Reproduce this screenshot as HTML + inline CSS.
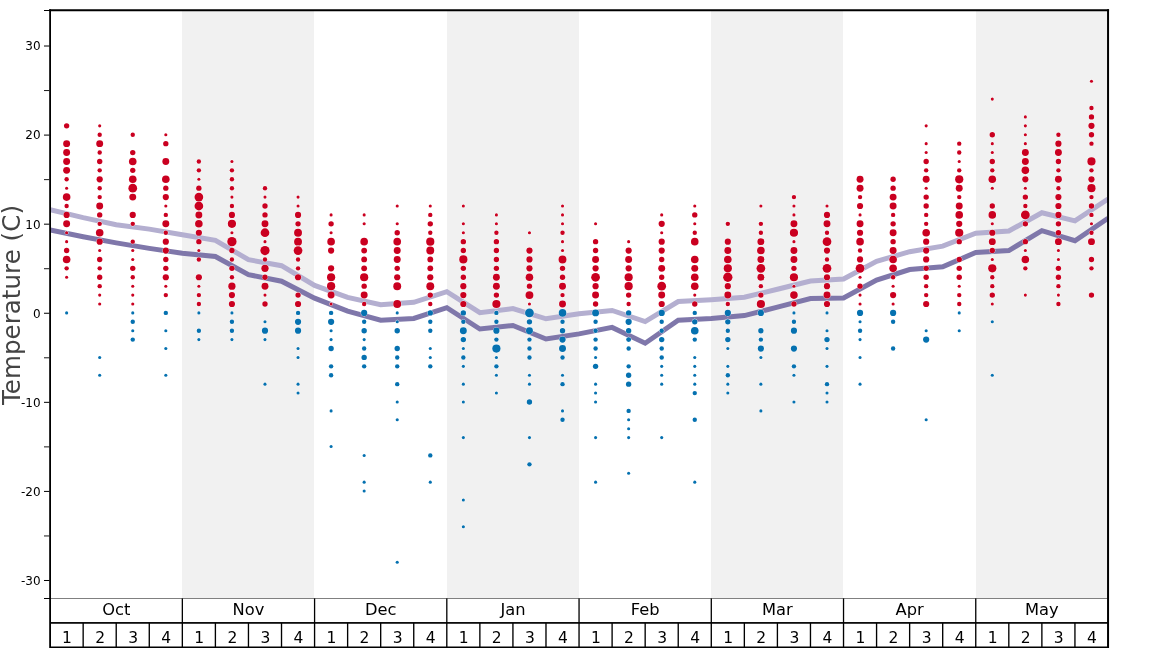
<!DOCTYPE html>
<html lang="en"><head><meta charset="utf-8"><title>Temperature</title>
<style>html,body{margin:0;padding:0;background:#fff}body{width:1168px;height:648px;overflow:hidden}svg{display:block}text{font-family:"DejaVu Sans","Liberation Sans",sans-serif;fill:#000}</style></head><body>
<svg width="1168" height="648" viewBox="0 0 1168 648">
<rect width="1168" height="648" fill="#fff"/>
<rect x="182.00" y="10.20" width="132.00" height="588.20" fill="#f1f1f1"/>
<rect x="447.00" y="10.20" width="132.00" height="588.20" fill="#f1f1f1"/>
<rect x="711.00" y="10.20" width="132.00" height="588.20" fill="#f1f1f1"/>
<rect x="976.00" y="10.20" width="132.00" height="588.20" fill="#f1f1f1"/>
<clipPath id="c"><rect x="50.10" y="10.20" width="1057.90" height="588.20"/></clipPath>
<path d="M50.10 209.70 L83.16 217.60 L116.22 224.70 L149.28 229.10 L182.34 234.80 L215.40 240.30 L248.46 259.70 L281.52 265.70 L314.58 285.40 L347.63 297.40 L380.69 304.70 L413.75 302.30 L446.81 291.70 L479.87 312.70 L512.93 308.60 L545.99 318.80 L579.05 313.70 L612.11 310.50 L645.17 321.60 L678.23 301.50 L711.29 299.70 L744.35 297.30 L777.41 289.20 L810.47 281.10 L843.53 279.00 L876.58 261.40 L909.64 251.70 L942.70 246.20 L975.76 233.20 L1008.82 231.05 L1041.88 212.75 L1074.94 220.90 L1108.00 199.00" fill="none" stroke="#b4afd0" stroke-width="5.00" stroke-linejoin="miter" stroke-miterlimit="10" clip-path="url(#c)"/>
<path d="M50.10 230.00 L83.16 236.80 L116.22 242.90 L149.28 248.40 L182.34 253.30 L215.40 256.50 L248.46 274.60 L281.52 281.20 L314.58 298.20 L347.63 311.20 L380.69 320.20 L413.75 318.40 L446.81 307.70 L479.87 329.00 L512.93 325.50 L545.99 339.00 L579.05 333.90 L612.11 327.40 L645.17 343.20 L678.23 320.20 L711.29 318.40 L744.35 315.60 L777.41 307.10 L810.47 298.60 L843.53 297.90 L876.58 280.00 L909.64 269.50 L942.70 266.70 L975.76 252.50 L1008.82 250.60 L1041.88 230.60 L1074.94 240.70 L1108.00 218.20" fill="none" stroke="#7f77aa" stroke-width="5.00" stroke-linejoin="miter" stroke-miterlimit="10" clip-path="url(#c)"/>
<g fill="#ca0020" stroke="#fff" stroke-width="0.8" paint-order="stroke"><circle cx="66.63" cy="125.83" r="2.68"/><circle cx="66.63" cy="143.65" r="3.47"/><circle cx="66.63" cy="152.56" r="3.47"/><circle cx="66.63" cy="161.46" r="3.47"/><circle cx="66.63" cy="170.37" r="3.47"/><circle cx="66.63" cy="179.28" r="2.19"/><circle cx="66.63" cy="188.19" r="1.55"/><circle cx="66.63" cy="197.10" r="3.80"/><circle cx="66.63" cy="206.00" r="2.19"/><circle cx="66.63" cy="214.91" r="3.10"/><circle cx="66.63" cy="223.82" r="3.47"/><circle cx="66.63" cy="232.73" r="1.55"/><circle cx="66.63" cy="241.64" r="1.55"/><circle cx="66.63" cy="250.54" r="2.68"/><circle cx="66.63" cy="259.45" r="3.80"/><circle cx="66.63" cy="268.36" r="2.19"/><circle cx="66.63" cy="277.27" r="1.55"/></g>
<g fill="#0571b0" stroke="#fff" stroke-width="0.8" paint-order="stroke"><circle cx="66.63" cy="312.90" r="1.55"/></g>
<g fill="#ca0020" stroke="#fff" stroke-width="0.8" paint-order="stroke"><circle cx="99.69" cy="125.83" r="1.55"/><circle cx="99.69" cy="134.74" r="2.19"/><circle cx="99.69" cy="143.65" r="3.47"/><circle cx="99.69" cy="152.56" r="2.19"/><circle cx="99.69" cy="161.46" r="2.68"/><circle cx="99.69" cy="170.37" r="2.19"/><circle cx="99.69" cy="179.28" r="3.10"/><circle cx="99.69" cy="188.19" r="2.19"/><circle cx="99.69" cy="197.10" r="2.19"/><circle cx="99.69" cy="206.00" r="3.47"/><circle cx="99.69" cy="214.91" r="2.68"/><circle cx="99.69" cy="223.82" r="2.19"/><circle cx="99.69" cy="232.73" r="3.80"/><circle cx="99.69" cy="241.64" r="3.10"/><circle cx="99.69" cy="250.54" r="1.55"/><circle cx="99.69" cy="259.45" r="2.68"/><circle cx="99.69" cy="268.36" r="2.19"/><circle cx="99.69" cy="277.27" r="2.68"/><circle cx="99.69" cy="286.18" r="2.19"/><circle cx="99.69" cy="295.08" r="1.55"/><circle cx="99.69" cy="303.99" r="1.55"/></g>
<g fill="#0571b0" stroke="#fff" stroke-width="0.8" paint-order="stroke"><circle cx="99.69" cy="357.44" r="1.55"/><circle cx="99.69" cy="375.26" r="1.55"/></g>
<g fill="#ca0020" stroke="#fff" stroke-width="0.8" paint-order="stroke"><circle cx="132.75" cy="134.74" r="2.19"/><circle cx="132.75" cy="152.56" r="2.68"/><circle cx="132.75" cy="161.46" r="3.80"/><circle cx="132.75" cy="170.37" r="2.68"/><circle cx="132.75" cy="179.28" r="3.80"/><circle cx="132.75" cy="188.19" r="4.38"/><circle cx="132.75" cy="197.10" r="3.47"/><circle cx="132.75" cy="214.91" r="3.10"/><circle cx="132.75" cy="223.82" r="2.19"/><circle cx="132.75" cy="241.64" r="2.19"/><circle cx="132.75" cy="250.54" r="1.55"/><circle cx="132.75" cy="259.45" r="1.55"/><circle cx="132.75" cy="268.36" r="2.68"/><circle cx="132.75" cy="277.27" r="2.19"/><circle cx="132.75" cy="286.18" r="1.55"/><circle cx="132.75" cy="295.08" r="1.55"/><circle cx="132.75" cy="303.99" r="1.55"/></g>
<g fill="#0571b0" stroke="#fff" stroke-width="0.8" paint-order="stroke"><circle cx="132.75" cy="312.90" r="1.55"/><circle cx="132.75" cy="321.81" r="2.19"/><circle cx="132.75" cy="330.72" r="1.55"/><circle cx="132.75" cy="339.62" r="2.19"/></g>
<g fill="#ca0020" stroke="#fff" stroke-width="0.8" paint-order="stroke"><circle cx="165.81" cy="134.74" r="1.55"/><circle cx="165.81" cy="143.65" r="2.68"/><circle cx="165.81" cy="161.46" r="3.47"/><circle cx="165.81" cy="179.28" r="3.80"/><circle cx="165.81" cy="188.19" r="2.68"/><circle cx="165.81" cy="197.10" r="3.10"/><circle cx="165.81" cy="206.00" r="1.55"/><circle cx="165.81" cy="214.91" r="2.19"/><circle cx="165.81" cy="223.82" r="3.47"/><circle cx="165.81" cy="232.73" r="2.19"/><circle cx="165.81" cy="241.64" r="3.10"/><circle cx="165.81" cy="250.54" r="3.10"/><circle cx="165.81" cy="259.45" r="2.68"/><circle cx="165.81" cy="268.36" r="2.68"/><circle cx="165.81" cy="277.27" r="3.10"/><circle cx="165.81" cy="286.18" r="1.55"/><circle cx="165.81" cy="295.08" r="2.19"/></g>
<g fill="#0571b0" stroke="#fff" stroke-width="0.8" paint-order="stroke"><circle cx="165.81" cy="312.90" r="2.19"/><circle cx="165.81" cy="330.72" r="1.55"/><circle cx="165.81" cy="348.53" r="1.55"/><circle cx="165.81" cy="375.26" r="1.55"/></g>
<g fill="#ca0020" stroke="#fff" stroke-width="0.8" paint-order="stroke"><circle cx="198.87" cy="161.46" r="2.19"/><circle cx="198.87" cy="170.37" r="2.19"/><circle cx="198.87" cy="179.28" r="1.55"/><circle cx="198.87" cy="188.19" r="2.68"/><circle cx="198.87" cy="197.10" r="4.38"/><circle cx="198.87" cy="206.00" r="4.38"/><circle cx="198.87" cy="214.91" r="3.47"/><circle cx="198.87" cy="223.82" r="3.80"/><circle cx="198.87" cy="232.73" r="3.10"/><circle cx="198.87" cy="241.64" r="2.68"/><circle cx="198.87" cy="250.54" r="1.55"/><circle cx="198.87" cy="259.45" r="2.19"/><circle cx="198.87" cy="277.27" r="3.10"/><circle cx="198.87" cy="286.18" r="1.55"/><circle cx="198.87" cy="295.08" r="2.19"/><circle cx="198.87" cy="303.99" r="2.19"/></g>
<g fill="#0571b0" stroke="#fff" stroke-width="0.8" paint-order="stroke"><circle cx="198.87" cy="312.90" r="1.55"/><circle cx="198.87" cy="330.72" r="2.19"/><circle cx="198.87" cy="339.62" r="1.55"/></g>
<g fill="#ca0020" stroke="#fff" stroke-width="0.8" paint-order="stroke"><circle cx="231.93" cy="161.46" r="1.55"/><circle cx="231.93" cy="170.37" r="2.19"/><circle cx="231.93" cy="179.28" r="2.19"/><circle cx="231.93" cy="188.19" r="2.19"/><circle cx="231.93" cy="197.10" r="1.55"/><circle cx="231.93" cy="206.00" r="2.19"/><circle cx="231.93" cy="214.91" r="3.10"/><circle cx="231.93" cy="223.82" r="4.10"/><circle cx="231.93" cy="232.73" r="1.55"/><circle cx="231.93" cy="241.64" r="4.65"/><circle cx="231.93" cy="250.54" r="2.68"/><circle cx="231.93" cy="259.45" r="2.19"/><circle cx="231.93" cy="268.36" r="2.68"/><circle cx="231.93" cy="277.27" r="2.19"/><circle cx="231.93" cy="286.18" r="3.64"/><circle cx="231.93" cy="295.08" r="3.10"/><circle cx="231.93" cy="303.99" r="3.10"/></g>
<g fill="#0571b0" stroke="#fff" stroke-width="0.8" paint-order="stroke"><circle cx="231.93" cy="312.90" r="1.55"/><circle cx="231.93" cy="321.81" r="2.19"/><circle cx="231.93" cy="330.72" r="2.19"/><circle cx="231.93" cy="339.62" r="1.55"/></g>
<g fill="#ca0020" stroke="#fff" stroke-width="0.8" paint-order="stroke"><circle cx="264.99" cy="188.19" r="2.19"/><circle cx="264.99" cy="197.10" r="1.55"/><circle cx="264.99" cy="206.00" r="2.68"/><circle cx="264.99" cy="214.91" r="2.68"/><circle cx="264.99" cy="223.82" r="3.47"/><circle cx="264.99" cy="232.73" r="4.38"/><circle cx="264.99" cy="241.64" r="1.55"/><circle cx="264.99" cy="250.54" r="4.65"/><circle cx="264.99" cy="259.45" r="2.19"/><circle cx="264.99" cy="268.36" r="3.64"/><circle cx="264.99" cy="277.27" r="2.68"/><circle cx="264.99" cy="286.18" r="3.47"/><circle cx="264.99" cy="295.08" r="1.55"/><circle cx="264.99" cy="303.99" r="2.68"/></g>
<g fill="#0571b0" stroke="#fff" stroke-width="0.8" paint-order="stroke"><circle cx="264.99" cy="321.81" r="1.55"/><circle cx="264.99" cy="330.72" r="3.10"/><circle cx="264.99" cy="339.62" r="1.55"/><circle cx="264.99" cy="384.16" r="1.55"/></g>
<g fill="#ca0020" stroke="#fff" stroke-width="0.8" paint-order="stroke"><circle cx="298.05" cy="197.10" r="1.55"/><circle cx="298.05" cy="206.00" r="1.55"/><circle cx="298.05" cy="214.91" r="3.10"/><circle cx="298.05" cy="223.82" r="2.68"/><circle cx="298.05" cy="232.73" r="3.95"/><circle cx="298.05" cy="241.64" r="3.95"/><circle cx="298.05" cy="250.54" r="4.38"/><circle cx="298.05" cy="259.45" r="2.19"/><circle cx="298.05" cy="268.36" r="2.19"/><circle cx="298.05" cy="277.27" r="3.10"/><circle cx="298.05" cy="295.08" r="2.68"/><circle cx="298.05" cy="303.99" r="3.10"/></g>
<g fill="#0571b0" stroke="#fff" stroke-width="0.8" paint-order="stroke"><circle cx="298.05" cy="312.90" r="2.19"/><circle cx="298.05" cy="321.81" r="3.10"/><circle cx="298.05" cy="330.72" r="3.10"/><circle cx="298.05" cy="348.53" r="1.55"/><circle cx="298.05" cy="357.44" r="1.55"/><circle cx="298.05" cy="384.16" r="1.55"/><circle cx="298.05" cy="393.07" r="1.55"/></g>
<g fill="#ca0020" stroke="#fff" stroke-width="0.8" paint-order="stroke"><circle cx="331.10" cy="214.91" r="1.55"/><circle cx="331.10" cy="223.82" r="2.68"/><circle cx="331.10" cy="232.73" r="1.55"/><circle cx="331.10" cy="241.64" r="3.80"/><circle cx="331.10" cy="250.54" r="3.10"/><circle cx="331.10" cy="268.36" r="3.10"/><circle cx="331.10" cy="277.27" r="4.10"/><circle cx="331.10" cy="286.18" r="4.10"/><circle cx="331.10" cy="295.08" r="3.47"/><circle cx="331.10" cy="303.99" r="1.55"/></g>
<g fill="#0571b0" stroke="#fff" stroke-width="0.8" paint-order="stroke"><circle cx="331.10" cy="312.90" r="2.19"/><circle cx="331.10" cy="321.81" r="3.10"/><circle cx="331.10" cy="330.72" r="1.55"/><circle cx="331.10" cy="339.62" r="1.55"/><circle cx="331.10" cy="348.53" r="2.68"/><circle cx="331.10" cy="366.35" r="2.19"/><circle cx="331.10" cy="375.26" r="2.19"/><circle cx="331.10" cy="410.89" r="1.55"/><circle cx="331.10" cy="446.52" r="1.55"/></g>
<g fill="#ca0020" stroke="#fff" stroke-width="0.8" paint-order="stroke"><circle cx="364.16" cy="214.91" r="1.55"/><circle cx="364.16" cy="223.82" r="1.55"/><circle cx="364.16" cy="241.64" r="3.80"/><circle cx="364.16" cy="250.54" r="2.90"/><circle cx="364.16" cy="259.45" r="2.90"/><circle cx="364.16" cy="268.36" r="2.90"/><circle cx="364.16" cy="277.27" r="4.10"/><circle cx="364.16" cy="286.18" r="2.68"/><circle cx="364.16" cy="295.08" r="3.47"/><circle cx="364.16" cy="303.99" r="2.19"/></g>
<g fill="#0571b0" stroke="#fff" stroke-width="0.8" paint-order="stroke"><circle cx="364.16" cy="312.90" r="3.10"/><circle cx="364.16" cy="321.81" r="2.19"/><circle cx="364.16" cy="330.72" r="2.68"/><circle cx="364.16" cy="339.62" r="1.55"/><circle cx="364.16" cy="348.53" r="2.19"/><circle cx="364.16" cy="357.44" r="2.68"/><circle cx="364.16" cy="366.35" r="2.19"/><circle cx="364.16" cy="455.43" r="1.55"/><circle cx="364.16" cy="482.15" r="1.55"/><circle cx="364.16" cy="491.06" r="1.55"/></g>
<g fill="#ca0020" stroke="#fff" stroke-width="0.8" paint-order="stroke"><circle cx="397.22" cy="206.00" r="1.55"/><circle cx="397.22" cy="223.82" r="1.55"/><circle cx="397.22" cy="232.73" r="2.68"/><circle cx="397.22" cy="241.64" r="3.80"/><circle cx="397.22" cy="250.54" r="3.47"/><circle cx="397.22" cy="259.45" r="3.47"/><circle cx="397.22" cy="268.36" r="2.68"/><circle cx="397.22" cy="277.27" r="3.10"/><circle cx="397.22" cy="286.18" r="3.95"/><circle cx="397.22" cy="303.99" r="3.95"/></g>
<g fill="#0571b0" stroke="#fff" stroke-width="0.8" paint-order="stroke"><circle cx="397.22" cy="312.90" r="1.55"/><circle cx="397.22" cy="321.81" r="1.55"/><circle cx="397.22" cy="330.72" r="2.68"/><circle cx="397.22" cy="348.53" r="2.68"/><circle cx="397.22" cy="357.44" r="2.19"/><circle cx="397.22" cy="366.35" r="2.19"/><circle cx="397.22" cy="384.16" r="2.19"/><circle cx="397.22" cy="401.98" r="1.55"/><circle cx="397.22" cy="419.80" r="1.55"/><circle cx="397.22" cy="562.32" r="1.55"/></g>
<g fill="#ca0020" stroke="#fff" stroke-width="0.8" paint-order="stroke"><circle cx="430.28" cy="206.00" r="1.55"/><circle cx="430.28" cy="214.91" r="2.19"/><circle cx="430.28" cy="223.82" r="2.68"/><circle cx="430.28" cy="232.73" r="2.19"/><circle cx="430.28" cy="241.64" r="4.10"/><circle cx="430.28" cy="250.54" r="3.95"/><circle cx="430.28" cy="259.45" r="2.90"/><circle cx="430.28" cy="268.36" r="2.90"/><circle cx="430.28" cy="277.27" r="3.10"/><circle cx="430.28" cy="286.18" r="3.95"/><circle cx="430.28" cy="295.08" r="2.68"/><circle cx="430.28" cy="303.99" r="2.19"/></g>
<g fill="#0571b0" stroke="#fff" stroke-width="0.8" paint-order="stroke"><circle cx="430.28" cy="312.90" r="2.68"/><circle cx="430.28" cy="321.81" r="2.19"/><circle cx="430.28" cy="330.72" r="2.19"/><circle cx="430.28" cy="348.53" r="1.55"/><circle cx="430.28" cy="357.44" r="1.55"/><circle cx="430.28" cy="366.35" r="2.19"/><circle cx="430.28" cy="455.43" r="2.19"/><circle cx="430.28" cy="482.15" r="1.55"/></g>
<g fill="#ca0020" stroke="#fff" stroke-width="0.8" paint-order="stroke"><circle cx="463.34" cy="206.00" r="1.55"/><circle cx="463.34" cy="223.82" r="1.55"/><circle cx="463.34" cy="232.73" r="1.55"/><circle cx="463.34" cy="241.64" r="2.68"/><circle cx="463.34" cy="250.54" r="2.68"/><circle cx="463.34" cy="259.45" r="4.10"/><circle cx="463.34" cy="268.36" r="2.68"/><circle cx="463.34" cy="277.27" r="2.68"/><circle cx="463.34" cy="286.18" r="3.10"/><circle cx="463.34" cy="295.08" r="3.10"/><circle cx="463.34" cy="303.99" r="3.10"/></g>
<g fill="#0571b0" stroke="#fff" stroke-width="0.8" paint-order="stroke"><circle cx="463.34" cy="312.90" r="2.68"/><circle cx="463.34" cy="321.81" r="2.19"/><circle cx="463.34" cy="330.72" r="3.47"/><circle cx="463.34" cy="339.62" r="2.68"/><circle cx="463.34" cy="348.53" r="1.55"/><circle cx="463.34" cy="357.44" r="2.19"/><circle cx="463.34" cy="366.35" r="1.55"/><circle cx="463.34" cy="384.16" r="1.55"/><circle cx="463.34" cy="401.98" r="1.55"/><circle cx="463.34" cy="437.61" r="1.55"/><circle cx="463.34" cy="499.97" r="1.55"/><circle cx="463.34" cy="526.69" r="1.55"/></g>
<g fill="#ca0020" stroke="#fff" stroke-width="0.8" paint-order="stroke"><circle cx="496.40" cy="214.91" r="1.55"/><circle cx="496.40" cy="223.82" r="1.55"/><circle cx="496.40" cy="232.73" r="2.19"/><circle cx="496.40" cy="241.64" r="2.68"/><circle cx="496.40" cy="250.54" r="2.68"/><circle cx="496.40" cy="259.45" r="2.68"/><circle cx="496.40" cy="268.36" r="2.68"/><circle cx="496.40" cy="277.27" r="3.47"/><circle cx="496.40" cy="286.18" r="3.47"/><circle cx="496.40" cy="295.08" r="2.68"/><circle cx="496.40" cy="303.99" r="4.10"/></g>
<g fill="#0571b0" stroke="#fff" stroke-width="0.8" paint-order="stroke"><circle cx="496.40" cy="312.90" r="2.19"/><circle cx="496.40" cy="321.81" r="2.19"/><circle cx="496.40" cy="330.72" r="3.10"/><circle cx="496.40" cy="339.62" r="2.19"/><circle cx="496.40" cy="348.53" r="4.10"/><circle cx="496.40" cy="357.44" r="1.55"/><circle cx="496.40" cy="366.35" r="2.19"/><circle cx="496.40" cy="375.26" r="1.55"/><circle cx="496.40" cy="393.07" r="1.55"/></g>
<g fill="#ca0020" stroke="#fff" stroke-width="0.8" paint-order="stroke"><circle cx="529.46" cy="232.73" r="1.55"/><circle cx="529.46" cy="250.54" r="3.10"/><circle cx="529.46" cy="259.45" r="3.10"/><circle cx="529.46" cy="268.36" r="3.10"/><circle cx="529.46" cy="277.27" r="3.80"/><circle cx="529.46" cy="286.18" r="2.68"/><circle cx="529.46" cy="295.08" r="3.95"/><circle cx="529.46" cy="303.99" r="1.55"/></g>
<g fill="#0571b0" stroke="#fff" stroke-width="0.8" paint-order="stroke"><circle cx="529.46" cy="312.90" r="4.38"/><circle cx="529.46" cy="321.81" r="2.68"/><circle cx="529.46" cy="330.72" r="3.47"/><circle cx="529.46" cy="339.62" r="2.19"/><circle cx="529.46" cy="348.53" r="2.19"/><circle cx="529.46" cy="357.44" r="2.19"/><circle cx="529.46" cy="375.26" r="1.55"/><circle cx="529.46" cy="384.16" r="1.55"/><circle cx="529.46" cy="401.98" r="2.68"/><circle cx="529.46" cy="437.61" r="1.55"/><circle cx="529.46" cy="464.34" r="2.19"/></g>
<g fill="#ca0020" stroke="#fff" stroke-width="0.8" paint-order="stroke"><circle cx="562.52" cy="206.00" r="1.55"/><circle cx="562.52" cy="214.91" r="1.55"/><circle cx="562.52" cy="223.82" r="1.55"/><circle cx="562.52" cy="232.73" r="2.19"/><circle cx="562.52" cy="241.64" r="1.55"/><circle cx="562.52" cy="250.54" r="1.55"/><circle cx="562.52" cy="259.45" r="3.95"/><circle cx="562.52" cy="268.36" r="2.68"/><circle cx="562.52" cy="277.27" r="2.68"/><circle cx="562.52" cy="286.18" r="3.47"/><circle cx="562.52" cy="295.08" r="2.19"/><circle cx="562.52" cy="303.99" r="3.47"/></g>
<g fill="#0571b0" stroke="#fff" stroke-width="0.8" paint-order="stroke"><circle cx="562.52" cy="312.90" r="3.80"/><circle cx="562.52" cy="321.81" r="2.19"/><circle cx="562.52" cy="330.72" r="2.68"/><circle cx="562.52" cy="339.62" r="3.10"/><circle cx="562.52" cy="348.53" r="3.47"/><circle cx="562.52" cy="357.44" r="2.19"/><circle cx="562.52" cy="375.26" r="1.55"/><circle cx="562.52" cy="384.16" r="2.19"/><circle cx="562.52" cy="410.89" r="1.55"/><circle cx="562.52" cy="419.80" r="2.19"/></g>
<g fill="#ca0020" stroke="#fff" stroke-width="0.8" paint-order="stroke"><circle cx="595.58" cy="223.82" r="1.55"/><circle cx="595.58" cy="241.64" r="2.68"/><circle cx="595.58" cy="250.54" r="2.68"/><circle cx="595.58" cy="259.45" r="3.47"/><circle cx="595.58" cy="268.36" r="3.10"/><circle cx="595.58" cy="277.27" r="4.38"/><circle cx="595.58" cy="286.18" r="3.10"/><circle cx="595.58" cy="295.08" r="3.47"/><circle cx="595.58" cy="303.99" r="2.68"/></g>
<g fill="#0571b0" stroke="#fff" stroke-width="0.8" paint-order="stroke"><circle cx="595.58" cy="312.90" r="3.47"/><circle cx="595.58" cy="321.81" r="2.19"/><circle cx="595.58" cy="330.72" r="2.19"/><circle cx="595.58" cy="339.62" r="2.19"/><circle cx="595.58" cy="348.53" r="2.19"/><circle cx="595.58" cy="357.44" r="1.55"/><circle cx="595.58" cy="366.35" r="2.68"/><circle cx="595.58" cy="384.16" r="1.55"/><circle cx="595.58" cy="393.07" r="1.55"/><circle cx="595.58" cy="401.98" r="1.55"/><circle cx="595.58" cy="437.61" r="1.55"/><circle cx="595.58" cy="482.15" r="1.55"/></g>
<g fill="#ca0020" stroke="#fff" stroke-width="0.8" paint-order="stroke"><circle cx="628.64" cy="241.64" r="1.55"/><circle cx="628.64" cy="250.54" r="3.10"/><circle cx="628.64" cy="259.45" r="3.47"/><circle cx="628.64" cy="268.36" r="3.10"/><circle cx="628.64" cy="277.27" r="4.10"/><circle cx="628.64" cy="286.18" r="4.10"/><circle cx="628.64" cy="295.08" r="2.68"/><circle cx="628.64" cy="303.99" r="2.19"/></g>
<g fill="#0571b0" stroke="#fff" stroke-width="0.8" paint-order="stroke"><circle cx="628.64" cy="312.90" r="2.68"/><circle cx="628.64" cy="321.81" r="3.10"/><circle cx="628.64" cy="330.72" r="2.68"/><circle cx="628.64" cy="339.62" r="2.45"/><circle cx="628.64" cy="348.53" r="2.19"/><circle cx="628.64" cy="366.35" r="2.19"/><circle cx="628.64" cy="375.26" r="2.68"/><circle cx="628.64" cy="384.16" r="2.68"/><circle cx="628.64" cy="410.89" r="2.19"/><circle cx="628.64" cy="419.80" r="1.55"/><circle cx="628.64" cy="428.70" r="1.55"/><circle cx="628.64" cy="437.61" r="1.55"/><circle cx="628.64" cy="473.24" r="1.55"/></g>
<g fill="#ca0020" stroke="#fff" stroke-width="0.8" paint-order="stroke"><circle cx="661.70" cy="214.91" r="1.55"/><circle cx="661.70" cy="223.82" r="3.10"/><circle cx="661.70" cy="232.73" r="1.55"/><circle cx="661.70" cy="241.64" r="3.10"/><circle cx="661.70" cy="250.54" r="3.10"/><circle cx="661.70" cy="259.45" r="2.68"/><circle cx="661.70" cy="268.36" r="3.47"/><circle cx="661.70" cy="277.27" r="2.68"/><circle cx="661.70" cy="286.18" r="4.38"/><circle cx="661.70" cy="295.08" r="3.47"/><circle cx="661.70" cy="303.99" r="3.10"/></g>
<g fill="#0571b0" stroke="#fff" stroke-width="0.8" paint-order="stroke"><circle cx="661.70" cy="312.90" r="3.10"/><circle cx="661.70" cy="321.81" r="2.19"/><circle cx="661.70" cy="330.72" r="2.19"/><circle cx="661.70" cy="339.62" r="2.68"/><circle cx="661.70" cy="348.53" r="2.19"/><circle cx="661.70" cy="357.44" r="2.19"/><circle cx="661.70" cy="366.35" r="1.55"/><circle cx="661.70" cy="375.26" r="1.55"/><circle cx="661.70" cy="384.16" r="1.55"/><circle cx="661.70" cy="437.61" r="1.55"/></g>
<g fill="#ca0020" stroke="#fff" stroke-width="0.8" paint-order="stroke"><circle cx="694.76" cy="206.00" r="1.55"/><circle cx="694.76" cy="214.91" r="2.68"/><circle cx="694.76" cy="223.82" r="1.55"/><circle cx="694.76" cy="232.73" r="2.19"/><circle cx="694.76" cy="241.64" r="3.80"/><circle cx="694.76" cy="259.45" r="3.80"/><circle cx="694.76" cy="268.36" r="3.47"/><circle cx="694.76" cy="277.27" r="3.80"/><circle cx="694.76" cy="286.18" r="3.80"/><circle cx="694.76" cy="295.08" r="1.55"/><circle cx="694.76" cy="303.99" r="2.68"/></g>
<g fill="#0571b0" stroke="#fff" stroke-width="0.8" paint-order="stroke"><circle cx="694.76" cy="312.90" r="2.19"/><circle cx="694.76" cy="321.81" r="2.68"/><circle cx="694.76" cy="330.72" r="3.80"/><circle cx="694.76" cy="339.62" r="2.19"/><circle cx="694.76" cy="357.44" r="1.55"/><circle cx="694.76" cy="366.35" r="1.55"/><circle cx="694.76" cy="375.26" r="1.55"/><circle cx="694.76" cy="384.16" r="1.55"/><circle cx="694.76" cy="393.07" r="2.19"/><circle cx="694.76" cy="419.80" r="2.19"/><circle cx="694.76" cy="482.15" r="1.55"/></g>
<g fill="#ca0020" stroke="#fff" stroke-width="0.8" paint-order="stroke"><circle cx="727.82" cy="223.82" r="2.19"/><circle cx="727.82" cy="241.64" r="3.10"/><circle cx="727.82" cy="250.54" r="3.47"/><circle cx="727.82" cy="259.45" r="3.80"/><circle cx="727.82" cy="268.36" r="4.10"/><circle cx="727.82" cy="277.27" r="4.65"/><circle cx="727.82" cy="286.18" r="3.10"/><circle cx="727.82" cy="295.08" r="3.47"/><circle cx="727.82" cy="303.99" r="2.19"/></g>
<g fill="#0571b0" stroke="#fff" stroke-width="0.8" paint-order="stroke"><circle cx="727.82" cy="312.90" r="3.10"/><circle cx="727.82" cy="321.81" r="2.68"/><circle cx="727.82" cy="330.72" r="2.19"/><circle cx="727.82" cy="339.62" r="2.68"/><circle cx="727.82" cy="348.53" r="1.55"/><circle cx="727.82" cy="366.35" r="1.55"/><circle cx="727.82" cy="375.26" r="2.19"/><circle cx="727.82" cy="384.16" r="1.55"/><circle cx="727.82" cy="393.07" r="1.55"/></g>
<g fill="#ca0020" stroke="#fff" stroke-width="0.8" paint-order="stroke"><circle cx="760.88" cy="206.00" r="1.55"/><circle cx="760.88" cy="223.82" r="2.19"/><circle cx="760.88" cy="232.73" r="2.19"/><circle cx="760.88" cy="241.64" r="3.47"/><circle cx="760.88" cy="250.54" r="3.80"/><circle cx="760.88" cy="259.45" r="3.47"/><circle cx="760.88" cy="268.36" r="4.38"/><circle cx="760.88" cy="277.27" r="3.47"/><circle cx="760.88" cy="286.18" r="2.19"/><circle cx="760.88" cy="295.08" r="2.68"/><circle cx="760.88" cy="303.99" r="4.10"/></g>
<g fill="#0571b0" stroke="#fff" stroke-width="0.8" paint-order="stroke"><circle cx="760.88" cy="312.90" r="3.10"/><circle cx="760.88" cy="330.72" r="2.68"/><circle cx="760.88" cy="339.62" r="2.19"/><circle cx="760.88" cy="348.53" r="3.10"/><circle cx="760.88" cy="357.44" r="1.55"/><circle cx="760.88" cy="384.16" r="1.55"/><circle cx="760.88" cy="410.89" r="1.55"/></g>
<g fill="#ca0020" stroke="#fff" stroke-width="0.8" paint-order="stroke"><circle cx="793.94" cy="197.10" r="2.19"/><circle cx="793.94" cy="206.00" r="1.55"/><circle cx="793.94" cy="214.91" r="1.55"/><circle cx="793.94" cy="223.82" r="3.47"/><circle cx="793.94" cy="232.73" r="4.10"/><circle cx="793.94" cy="241.64" r="1.55"/><circle cx="793.94" cy="250.54" r="3.47"/><circle cx="793.94" cy="259.45" r="3.47"/><circle cx="793.94" cy="268.36" r="2.68"/><circle cx="793.94" cy="277.27" r="4.10"/><circle cx="793.94" cy="286.18" r="1.55"/><circle cx="793.94" cy="295.08" r="3.80"/><circle cx="793.94" cy="303.99" r="2.68"/></g>
<g fill="#0571b0" stroke="#fff" stroke-width="0.8" paint-order="stroke"><circle cx="793.94" cy="312.90" r="1.55"/><circle cx="793.94" cy="321.81" r="2.19"/><circle cx="793.94" cy="330.72" r="3.10"/><circle cx="793.94" cy="348.53" r="3.10"/><circle cx="793.94" cy="366.35" r="2.19"/><circle cx="793.94" cy="375.26" r="1.55"/><circle cx="793.94" cy="401.98" r="1.55"/></g>
<g fill="#ca0020" stroke="#fff" stroke-width="0.8" paint-order="stroke"><circle cx="827.00" cy="206.00" r="1.55"/><circle cx="827.00" cy="214.91" r="3.10"/><circle cx="827.00" cy="223.82" r="3.47"/><circle cx="827.00" cy="232.73" r="2.19"/><circle cx="827.00" cy="241.64" r="4.38"/><circle cx="827.00" cy="250.54" r="3.10"/><circle cx="827.00" cy="259.45" r="2.19"/><circle cx="827.00" cy="268.36" r="4.38"/><circle cx="827.00" cy="277.27" r="3.10"/><circle cx="827.00" cy="286.18" r="3.10"/><circle cx="827.00" cy="295.08" r="3.47"/><circle cx="827.00" cy="303.99" r="3.10"/></g>
<g fill="#0571b0" stroke="#fff" stroke-width="0.8" paint-order="stroke"><circle cx="827.00" cy="312.90" r="1.55"/><circle cx="827.00" cy="330.72" r="1.55"/><circle cx="827.00" cy="339.62" r="2.68"/><circle cx="827.00" cy="348.53" r="1.55"/><circle cx="827.00" cy="366.35" r="1.55"/><circle cx="827.00" cy="384.16" r="2.19"/><circle cx="827.00" cy="393.07" r="1.55"/><circle cx="827.00" cy="401.98" r="1.55"/></g>
<g fill="#ca0020" stroke="#fff" stroke-width="0.8" paint-order="stroke"><circle cx="860.05" cy="179.28" r="3.47"/><circle cx="860.05" cy="188.19" r="3.47"/><circle cx="860.05" cy="197.10" r="2.19"/><circle cx="860.05" cy="206.00" r="3.10"/><circle cx="860.05" cy="214.91" r="1.55"/><circle cx="860.05" cy="223.82" r="3.47"/><circle cx="860.05" cy="232.73" r="3.10"/><circle cx="860.05" cy="241.64" r="3.80"/><circle cx="860.05" cy="250.54" r="2.19"/><circle cx="860.05" cy="259.45" r="3.10"/><circle cx="860.05" cy="268.36" r="4.38"/><circle cx="860.05" cy="277.27" r="1.55"/><circle cx="860.05" cy="286.18" r="2.68"/><circle cx="860.05" cy="295.08" r="1.55"/><circle cx="860.05" cy="303.99" r="1.55"/></g>
<g fill="#0571b0" stroke="#fff" stroke-width="0.8" paint-order="stroke"><circle cx="860.05" cy="312.90" r="3.10"/><circle cx="860.05" cy="321.81" r="1.55"/><circle cx="860.05" cy="330.72" r="2.19"/><circle cx="860.05" cy="339.62" r="1.55"/><circle cx="860.05" cy="357.44" r="1.55"/><circle cx="860.05" cy="384.16" r="1.55"/></g>
<g fill="#ca0020" stroke="#fff" stroke-width="0.8" paint-order="stroke"><circle cx="893.11" cy="179.28" r="2.68"/><circle cx="893.11" cy="188.19" r="2.68"/><circle cx="893.11" cy="197.10" r="3.47"/><circle cx="893.11" cy="206.00" r="3.47"/><circle cx="893.11" cy="214.91" r="2.19"/><circle cx="893.11" cy="223.82" r="2.68"/><circle cx="893.11" cy="232.73" r="3.47"/><circle cx="893.11" cy="241.64" r="2.68"/><circle cx="893.11" cy="250.54" r="3.47"/><circle cx="893.11" cy="259.45" r="3.80"/><circle cx="893.11" cy="268.36" r="3.80"/><circle cx="893.11" cy="277.27" r="2.19"/><circle cx="893.11" cy="286.18" r="1.55"/><circle cx="893.11" cy="295.08" r="3.10"/><circle cx="893.11" cy="303.99" r="1.55"/></g>
<g fill="#0571b0" stroke="#fff" stroke-width="0.8" paint-order="stroke"><circle cx="893.11" cy="312.90" r="3.10"/><circle cx="893.11" cy="321.81" r="2.19"/><circle cx="893.11" cy="348.53" r="2.19"/></g>
<g fill="#ca0020" stroke="#fff" stroke-width="0.8" paint-order="stroke"><circle cx="926.17" cy="125.83" r="1.55"/><circle cx="926.17" cy="143.65" r="1.55"/><circle cx="926.17" cy="152.56" r="1.55"/><circle cx="926.17" cy="161.46" r="2.68"/><circle cx="926.17" cy="170.37" r="2.19"/><circle cx="926.17" cy="179.28" r="3.47"/><circle cx="926.17" cy="188.19" r="1.55"/><circle cx="926.17" cy="197.10" r="2.68"/><circle cx="926.17" cy="206.00" r="2.68"/><circle cx="926.17" cy="214.91" r="2.19"/><circle cx="926.17" cy="223.82" r="2.19"/><circle cx="926.17" cy="232.73" r="3.80"/><circle cx="926.17" cy="241.64" r="3.10"/><circle cx="926.17" cy="250.54" r="3.10"/><circle cx="926.17" cy="259.45" r="3.10"/><circle cx="926.17" cy="268.36" r="2.68"/><circle cx="926.17" cy="277.27" r="2.68"/><circle cx="926.17" cy="286.18" r="2.19"/><circle cx="926.17" cy="295.08" r="2.19"/><circle cx="926.17" cy="303.99" r="3.10"/></g>
<g fill="#0571b0" stroke="#fff" stroke-width="0.8" paint-order="stroke"><circle cx="926.17" cy="330.72" r="1.55"/><circle cx="926.17" cy="339.62" r="3.10"/><circle cx="926.17" cy="419.80" r="1.55"/></g>
<g fill="#ca0020" stroke="#fff" stroke-width="0.8" paint-order="stroke"><circle cx="959.23" cy="143.65" r="2.19"/><circle cx="959.23" cy="152.56" r="2.19"/><circle cx="959.23" cy="161.46" r="1.55"/><circle cx="959.23" cy="170.37" r="2.19"/><circle cx="959.23" cy="179.28" r="4.10"/><circle cx="959.23" cy="188.19" r="3.47"/><circle cx="959.23" cy="197.10" r="2.19"/><circle cx="959.23" cy="206.00" r="3.47"/><circle cx="959.23" cy="214.91" r="3.80"/><circle cx="959.23" cy="223.82" r="3.10"/><circle cx="959.23" cy="232.73" r="4.10"/><circle cx="959.23" cy="241.64" r="2.68"/><circle cx="959.23" cy="259.45" r="2.68"/><circle cx="959.23" cy="268.36" r="2.68"/><circle cx="959.23" cy="277.27" r="2.68"/><circle cx="959.23" cy="286.18" r="1.55"/><circle cx="959.23" cy="295.08" r="2.19"/><circle cx="959.23" cy="303.99" r="2.19"/></g>
<g fill="#0571b0" stroke="#fff" stroke-width="0.8" paint-order="stroke"><circle cx="959.23" cy="312.90" r="1.55"/><circle cx="959.23" cy="330.72" r="1.55"/></g>
<g fill="#ca0020" stroke="#fff" stroke-width="0.8" paint-order="stroke"><circle cx="992.29" cy="99.11" r="1.55"/><circle cx="992.29" cy="134.74" r="2.68"/><circle cx="992.29" cy="143.65" r="1.55"/><circle cx="992.29" cy="152.56" r="1.55"/><circle cx="992.29" cy="161.46" r="2.68"/><circle cx="992.29" cy="170.37" r="2.19"/><circle cx="992.29" cy="179.28" r="3.80"/><circle cx="992.29" cy="188.19" r="1.55"/><circle cx="992.29" cy="206.00" r="2.68"/><circle cx="992.29" cy="214.91" r="3.80"/><circle cx="992.29" cy="223.82" r="1.55"/><circle cx="992.29" cy="232.73" r="3.10"/><circle cx="992.29" cy="241.64" r="3.47"/><circle cx="992.29" cy="250.54" r="2.68"/><circle cx="992.29" cy="259.45" r="1.55"/><circle cx="992.29" cy="268.36" r="4.10"/><circle cx="992.29" cy="277.27" r="2.19"/><circle cx="992.29" cy="286.18" r="2.19"/><circle cx="992.29" cy="295.08" r="2.68"/><circle cx="992.29" cy="303.99" r="1.55"/></g>
<g fill="#0571b0" stroke="#fff" stroke-width="0.8" paint-order="stroke"><circle cx="992.29" cy="321.81" r="1.55"/><circle cx="992.29" cy="375.26" r="1.55"/></g>
<g fill="#ca0020" stroke="#fff" stroke-width="0.8" paint-order="stroke"><circle cx="1025.35" cy="116.92" r="1.55"/><circle cx="1025.35" cy="125.83" r="1.55"/><circle cx="1025.35" cy="134.74" r="1.55"/><circle cx="1025.35" cy="143.65" r="1.55"/><circle cx="1025.35" cy="152.56" r="3.47"/><circle cx="1025.35" cy="161.46" r="3.47"/><circle cx="1025.35" cy="170.37" r="3.80"/><circle cx="1025.35" cy="179.28" r="3.10"/><circle cx="1025.35" cy="188.19" r="1.55"/><circle cx="1025.35" cy="197.10" r="2.68"/><circle cx="1025.35" cy="206.00" r="2.19"/><circle cx="1025.35" cy="214.91" r="4.38"/><circle cx="1025.35" cy="223.82" r="2.68"/><circle cx="1025.35" cy="241.64" r="2.68"/><circle cx="1025.35" cy="250.54" r="1.55"/><circle cx="1025.35" cy="259.45" r="3.80"/><circle cx="1025.35" cy="268.36" r="2.19"/><circle cx="1025.35" cy="295.08" r="1.55"/></g>
<g fill="#ca0020" stroke="#fff" stroke-width="0.8" paint-order="stroke"><circle cx="1058.41" cy="134.74" r="2.19"/><circle cx="1058.41" cy="143.65" r="3.10"/><circle cx="1058.41" cy="152.56" r="3.47"/><circle cx="1058.41" cy="161.46" r="2.68"/><circle cx="1058.41" cy="170.37" r="2.19"/><circle cx="1058.41" cy="179.28" r="3.47"/><circle cx="1058.41" cy="188.19" r="2.19"/><circle cx="1058.41" cy="197.10" r="3.10"/><circle cx="1058.41" cy="206.00" r="3.10"/><circle cx="1058.41" cy="214.91" r="3.10"/><circle cx="1058.41" cy="223.82" r="2.68"/><circle cx="1058.41" cy="232.73" r="2.68"/><circle cx="1058.41" cy="241.64" r="3.47"/><circle cx="1058.41" cy="250.54" r="1.55"/><circle cx="1058.41" cy="259.45" r="1.55"/><circle cx="1058.41" cy="268.36" r="2.68"/><circle cx="1058.41" cy="277.27" r="2.68"/><circle cx="1058.41" cy="286.18" r="2.19"/><circle cx="1058.41" cy="295.08" r="1.55"/><circle cx="1058.41" cy="303.99" r="2.19"/></g>
<g fill="#ca0020" stroke="#fff" stroke-width="0.8" paint-order="stroke"><circle cx="1091.47" cy="81.29" r="1.55"/><circle cx="1091.47" cy="108.02" r="2.19"/><circle cx="1091.47" cy="116.92" r="2.68"/><circle cx="1091.47" cy="125.83" r="3.10"/><circle cx="1091.47" cy="134.74" r="2.68"/><circle cx="1091.47" cy="143.65" r="2.19"/><circle cx="1091.47" cy="161.46" r="4.10"/><circle cx="1091.47" cy="170.37" r="2.19"/><circle cx="1091.47" cy="179.28" r="3.10"/><circle cx="1091.47" cy="188.19" r="4.10"/><circle cx="1091.47" cy="197.10" r="2.19"/><circle cx="1091.47" cy="206.00" r="2.68"/><circle cx="1091.47" cy="214.91" r="2.19"/><circle cx="1091.47" cy="223.82" r="1.55"/><circle cx="1091.47" cy="232.73" r="2.19"/><circle cx="1091.47" cy="241.64" r="3.47"/><circle cx="1091.47" cy="259.45" r="2.68"/><circle cx="1091.47" cy="268.36" r="2.19"/><circle cx="1091.47" cy="295.08" r="2.68"/></g>
<rect x="50.10" y="598.00" width="1057.90" height="1" fill="#808080"/>
<rect x="49.20" y="9.30" width="1.8" height="638.70" fill="#000"/>
<rect x="1107.05" y="9.30" width="2.0" height="638.70" fill="#000"/>
<rect x="49.20" y="9.25" width="1059.85" height="2.0" fill="#000"/>
<rect x="50.10" y="622.05" width="1057.90" height="1.7" fill="#000"/>
<rect x="50.10" y="646.50" width="1057.90" height="2" fill="#000"/>
<rect x="181.69" y="598.40" width="1.3" height="24.50" fill="#000"/>
<rect x="313.93" y="598.40" width="1.3" height="24.50" fill="#000"/>
<rect x="446.16" y="598.40" width="1.3" height="24.50" fill="#000"/>
<rect x="578.40" y="598.40" width="1.3" height="24.50" fill="#000"/>
<rect x="710.64" y="598.40" width="1.3" height="24.50" fill="#000"/>
<rect x="842.88" y="598.40" width="1.3" height="24.50" fill="#000"/>
<rect x="975.11" y="598.40" width="1.3" height="24.50" fill="#000"/>
<rect x="82.48" y="622.90" width="1.35" height="25.10" fill="#000"/>
<rect x="115.54" y="622.90" width="1.35" height="25.10" fill="#000"/>
<rect x="148.60" y="622.90" width="1.35" height="25.10" fill="#000"/>
<rect x="181.66" y="622.90" width="1.35" height="25.10" fill="#000"/>
<rect x="214.72" y="622.90" width="1.35" height="25.10" fill="#000"/>
<rect x="247.78" y="622.90" width="1.35" height="25.10" fill="#000"/>
<rect x="280.84" y="622.90" width="1.35" height="25.10" fill="#000"/>
<rect x="313.90" y="622.90" width="1.35" height="25.10" fill="#000"/>
<rect x="346.95" y="622.90" width="1.35" height="25.10" fill="#000"/>
<rect x="380.01" y="622.90" width="1.35" height="25.10" fill="#000"/>
<rect x="413.07" y="622.90" width="1.35" height="25.10" fill="#000"/>
<rect x="446.13" y="622.90" width="1.35" height="25.10" fill="#000"/>
<rect x="479.19" y="622.90" width="1.35" height="25.10" fill="#000"/>
<rect x="512.25" y="622.90" width="1.35" height="25.10" fill="#000"/>
<rect x="545.31" y="622.90" width="1.35" height="25.10" fill="#000"/>
<rect x="578.37" y="622.90" width="1.35" height="25.10" fill="#000"/>
<rect x="611.43" y="622.90" width="1.35" height="25.10" fill="#000"/>
<rect x="644.49" y="622.90" width="1.35" height="25.10" fill="#000"/>
<rect x="677.55" y="622.90" width="1.35" height="25.10" fill="#000"/>
<rect x="710.61" y="622.90" width="1.35" height="25.10" fill="#000"/>
<rect x="743.67" y="622.90" width="1.35" height="25.10" fill="#000"/>
<rect x="776.73" y="622.90" width="1.35" height="25.10" fill="#000"/>
<rect x="809.79" y="622.90" width="1.35" height="25.10" fill="#000"/>
<rect x="842.85" y="622.90" width="1.35" height="25.10" fill="#000"/>
<rect x="875.90" y="622.90" width="1.35" height="25.10" fill="#000"/>
<rect x="908.96" y="622.90" width="1.35" height="25.10" fill="#000"/>
<rect x="942.02" y="622.90" width="1.35" height="25.10" fill="#000"/>
<rect x="975.08" y="622.90" width="1.35" height="25.10" fill="#000"/>
<rect x="1008.14" y="622.90" width="1.35" height="25.10" fill="#000"/>
<rect x="1041.20" y="622.90" width="1.35" height="25.10" fill="#000"/>
<rect x="1074.26" y="622.90" width="1.35" height="25.10" fill="#000"/>
<text x="116.22" y="615" font-size="16.3" text-anchor="middle">Oct</text>
<text x="248.46" y="615" font-size="16.3" text-anchor="middle">Nov</text>
<text x="380.69" y="615" font-size="16.3" text-anchor="middle">Dec</text>
<text x="512.93" y="615" font-size="16.3" text-anchor="middle">Jan</text>
<text x="645.17" y="615" font-size="16.3" text-anchor="middle">Feb</text>
<text x="777.41" y="615" font-size="16.3" text-anchor="middle">Mar</text>
<text x="909.64" y="615" font-size="16.3" text-anchor="middle">Apr</text>
<text x="1041.88" y="615" font-size="16.3" text-anchor="middle">May</text>
<text x="67.03" y="642.8" font-size="15.5" text-anchor="middle">1</text>
<text x="100.09" y="642.8" font-size="15.5" text-anchor="middle">2</text>
<text x="133.15" y="642.8" font-size="15.5" text-anchor="middle">3</text>
<text x="166.21" y="642.8" font-size="15.5" text-anchor="middle">4</text>
<text x="199.27" y="642.8" font-size="15.5" text-anchor="middle">1</text>
<text x="232.33" y="642.8" font-size="15.5" text-anchor="middle">2</text>
<text x="265.39" y="642.8" font-size="15.5" text-anchor="middle">3</text>
<text x="298.45" y="642.8" font-size="15.5" text-anchor="middle">4</text>
<text x="331.50" y="642.8" font-size="15.5" text-anchor="middle">1</text>
<text x="364.56" y="642.8" font-size="15.5" text-anchor="middle">2</text>
<text x="397.62" y="642.8" font-size="15.5" text-anchor="middle">3</text>
<text x="430.68" y="642.8" font-size="15.5" text-anchor="middle">4</text>
<text x="463.74" y="642.8" font-size="15.5" text-anchor="middle">1</text>
<text x="496.80" y="642.8" font-size="15.5" text-anchor="middle">2</text>
<text x="529.86" y="642.8" font-size="15.5" text-anchor="middle">3</text>
<text x="562.92" y="642.8" font-size="15.5" text-anchor="middle">4</text>
<text x="595.98" y="642.8" font-size="15.5" text-anchor="middle">1</text>
<text x="629.04" y="642.8" font-size="15.5" text-anchor="middle">2</text>
<text x="662.10" y="642.8" font-size="15.5" text-anchor="middle">3</text>
<text x="695.16" y="642.8" font-size="15.5" text-anchor="middle">4</text>
<text x="728.22" y="642.8" font-size="15.5" text-anchor="middle">1</text>
<text x="761.28" y="642.8" font-size="15.5" text-anchor="middle">2</text>
<text x="794.34" y="642.8" font-size="15.5" text-anchor="middle">3</text>
<text x="827.40" y="642.8" font-size="15.5" text-anchor="middle">4</text>
<text x="860.45" y="642.8" font-size="15.5" text-anchor="middle">1</text>
<text x="893.51" y="642.8" font-size="15.5" text-anchor="middle">2</text>
<text x="926.57" y="642.8" font-size="15.5" text-anchor="middle">3</text>
<text x="959.63" y="642.8" font-size="15.5" text-anchor="middle">4</text>
<text x="992.69" y="642.8" font-size="15.5" text-anchor="middle">1</text>
<text x="1025.75" y="642.8" font-size="15.5" text-anchor="middle">2</text>
<text x="1058.81" y="642.8" font-size="15.5" text-anchor="middle">3</text>
<text x="1091.87" y="642.8" font-size="15.5" text-anchor="middle">4</text>
<rect x="44" y="579.99" width="5.5" height="1" fill="#000"/>
<text x="40.6" y="584.84" font-size="12" text-anchor="end">-30</text>
<rect x="44" y="535.45" width="5.5" height="1" fill="#1a1a1a"/>
<rect x="44" y="490.91" width="5.5" height="1" fill="#000"/>
<text x="40.6" y="495.76" font-size="12" text-anchor="end">-20</text>
<rect x="44" y="446.37" width="5.5" height="1" fill="#1a1a1a"/>
<rect x="44" y="401.83" width="5.5" height="1" fill="#000"/>
<text x="40.6" y="406.68" font-size="12" text-anchor="end">-10</text>
<rect x="44" y="357.29" width="5.5" height="1" fill="#1a1a1a"/>
<rect x="44" y="312.75" width="5.5" height="1" fill="#000"/>
<text x="40.6" y="317.60" font-size="12" text-anchor="end">0</text>
<rect x="44" y="268.21" width="5.5" height="1" fill="#1a1a1a"/>
<rect x="44" y="223.67" width="5.5" height="1" fill="#000"/>
<text x="40.6" y="228.52" font-size="12" text-anchor="end">10</text>
<rect x="44" y="179.13" width="5.5" height="1" fill="#1a1a1a"/>
<rect x="44" y="134.59" width="5.5" height="1" fill="#000"/>
<text x="40.6" y="139.44" font-size="12" text-anchor="end">20</text>
<rect x="44" y="90.05" width="5.5" height="1" fill="#1a1a1a"/>
<rect x="44" y="45.51" width="5.5" height="1" fill="#000"/>
<text x="40.6" y="50.36" font-size="12" text-anchor="end">30</text>
<rect x="44" y="10.00" width="6" height="1" fill="#000"/>
<rect x="44" y="598.0" width="6" height="1" fill="#000"/>
<text transform="translate(20 305) rotate(-90)" font-size="24.6" text-anchor="middle" style="fill:#444">Temperature (C)</text>
</svg></body></html>
